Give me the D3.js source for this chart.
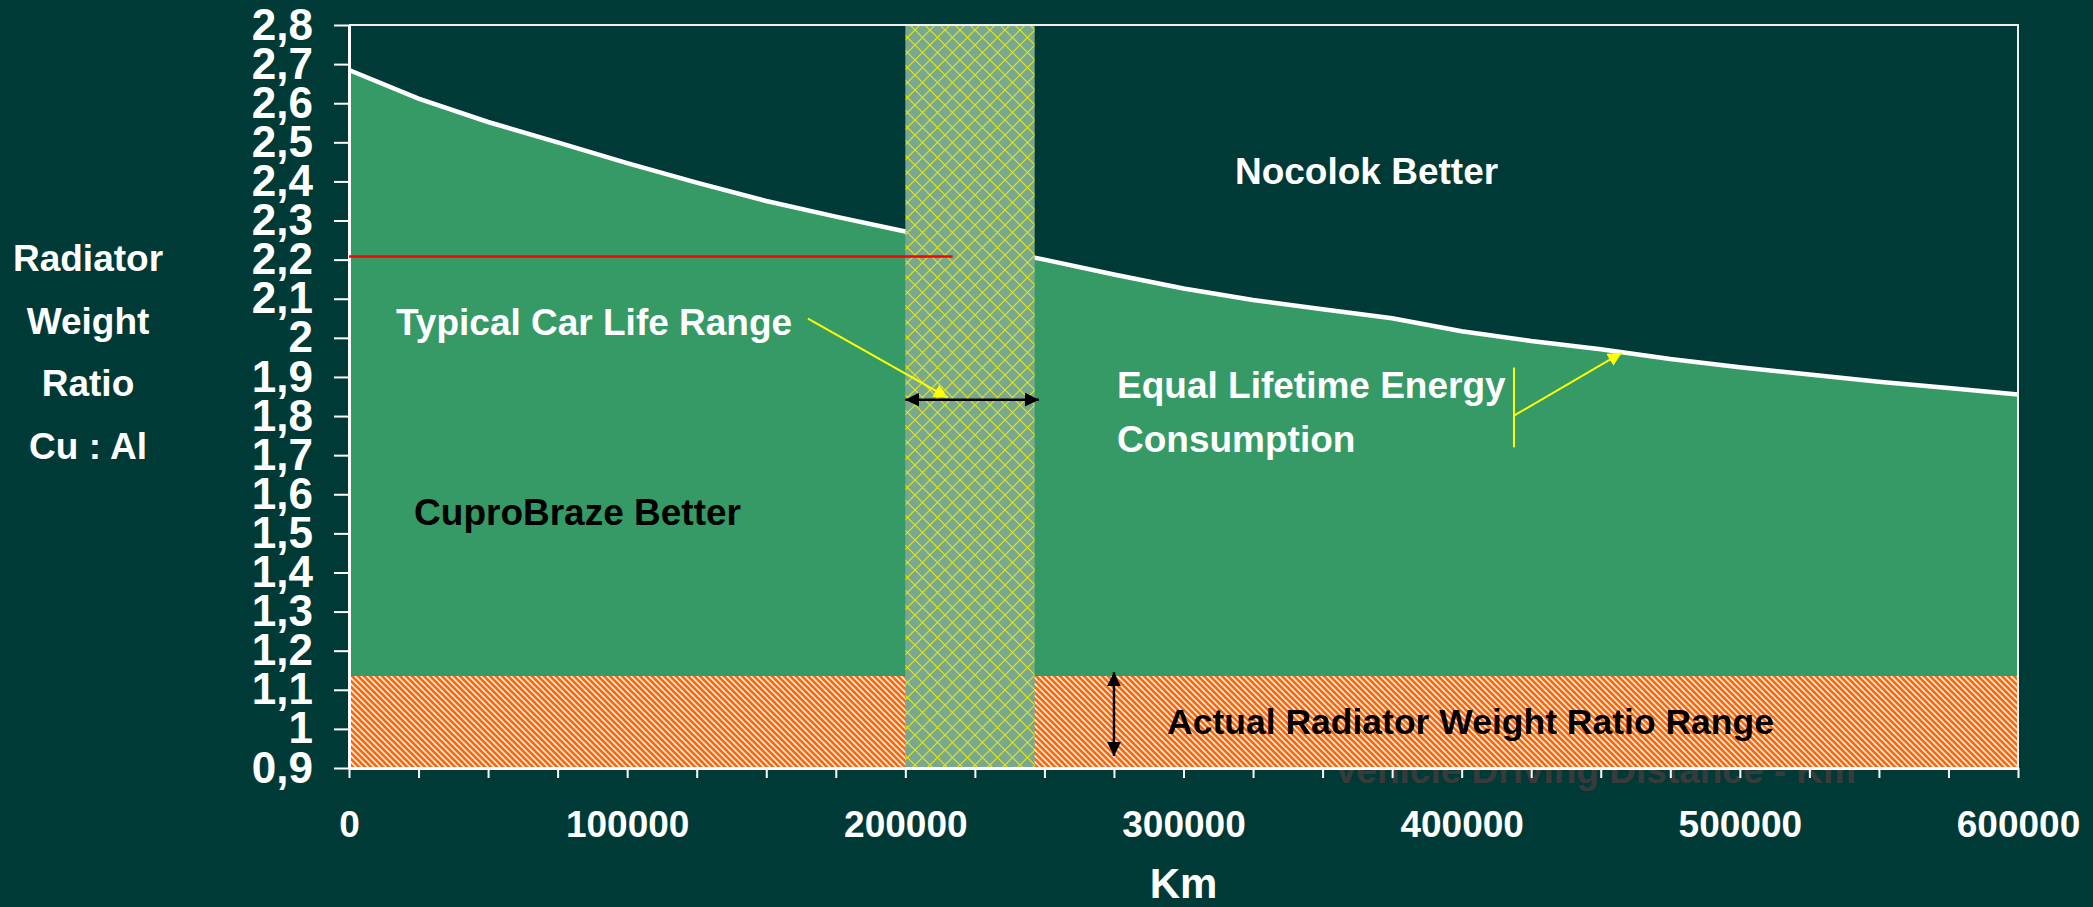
<!DOCTYPE html>
<html>
<head>
<meta charset="utf-8">
<script src="https://cdnjs.cloudflare.com/ajax/libs/d3/7.8.5/d3.min.js"></script>
<style>
body {margin: 0; background: #003a36;}
svg text {font-family: "Liberation Sans", Arial, Helvetica, sans-serif; font-weight: bold;}
</style>
</head>
<body>
<svg id="chart" width="2093" height="907"></svg>
<script>
// distance (km) and Cu:Al weight ratio giving equal lifetime energy
const km = [0, 25000, 50000, 75000, 100000, 125000, 150000, 175000, 200000, 225000, 250000,
            275000, 300000, 325000, 350000, 375000, 400000, 425000, 450000, 475000, 500000,
            525000, 550000, 575000, 600000];
const ratio = [2.685, 2.612, 2.552, 2.50, 2.447, 2.397, 2.35, 2.31, 2.272, 2.235, 2.20,
               2.162, 2.126, 2.097, 2.073, 2.05, 2.017, 1.992, 1.971, 1.946, 1.925,
               1.906, 1.888, 1.872, 1.855];
const yTicks = [0.9, 1, 1.1, 1.2, 1.3, 1.4, 1.5, 1.6, 1.7, 1.8, 1.9, 2, 2.1, 2.2, 2.3, 2.4, 2.5, 2.6, 2.7, 2.8];
const xLabels = [0, 100000, 200000, 300000, 400000, 500000, 600000];
const carLife = [200000, 246500];      // typical car life range (km)
const actualRange = [0.9, 1.135];      // actual radiator weight ratio range
const redLevel = 2.208;                // ratio marked at car life
const redEnd = 217000;
const yTitle = ["Radiator", "Weight", "Ratio", "Cu : Al"];

var margin = {top: 25, right: 75, bottom: 139, left: 349};
var W = 2093, H = 907;

var svg = d3.select("#chart");
var x = d3.scaleLinear().domain([0, 600000]).range([margin.left, W - margin.right]);
var y = d3.scaleLinear().domain([0.9, 2.8]).range([H - margin.bottom, margin.top]);

var defs = svg.append("defs");

// orange / white diagonal stripes
var stripes = defs.append("pattern")
    .attr("id", "stripes").attr("patternUnits", "userSpaceOnUse")
    .attr("width", 6).attr("height", 6);
stripes.append("rect").attr("width", 6).attr("height", 6).attr("fill", "#ffffff");
stripes.append("path").attr("d", "M-1,-1L7,7M-1,5L1,7M5,-1L7,1")
    .attr("stroke", "#ff6608").attr("stroke-width", 2.7);

var hatch = defs.append("pattern")
    .attr("id", "hatch").attr("patternUnits", "userSpaceOnUse")
    .attr("width", 15).attr("height", 15);
hatch.append("rect").attr("width", 15).attr("height", 15).attr("fill", "#78a990");
hatch.append("path").attr("d", "M0,0L15,15M15,0L0,15")
    .attr("stroke", "#e4e41a").attr("stroke-width", 1.2);

function marker(id, color, size) {
    defs.append("marker")
        .attr("id", id).attr("viewBox", "0 0 10 10")
        .attr("refX", 10).attr("refY", 5)
        .attr("markerUnits", "userSpaceOnUse")
        .attr("markerWidth", size).attr("markerHeight", size)
        .attr("orient", "auto-start-reverse")
      .append("path").attr("d", "M0,0L10,5L0,10Z").attr("fill", color);
}
marker("arrowY", "#ffff00", 14);
marker("arrowK", "#000000", 14);

// background
svg.append("rect").attr("width", W).attr("height", H).attr("fill", "#003a36");

// area under the equal-energy curve
var pts = km.map((d, i) => ({km: d, r: ratio[i]}));
svg.append("path")
    .datum(pts)
    .attr("fill", "#359a65")
    .attr("d", d3.area().x(d => x(d.km)).y0(y(0.9)).y1(d => y(d.r)));

// hidden title sitting behind the orange band
svg.append("text")
    .attr("x", x(354000)).attr("y", y(0.9) + 15)
    .attr("font-size", 37).attr("fill", "#3a3a3a")
    .text("Vehicle Driving Distance - Km");

svg.append("rect")
    .attr("x", x(0)).attr("width", x(600000) - x(0))
    .attr("y", y(actualRange[1])).attr("height", y(actualRange[0]) - y(actualRange[1]))
    .attr("fill", "url(#stripes)");

svg.append("path")
    .datum(pts)
    .attr("fill", "none").attr("stroke", "#ffffff").attr("stroke-width", 4.5)
    .attr("d", d3.line().x(d => x(d.km)).y(d => y(d.r)));

svg.append("rect")
    .attr("x", x(carLife[0])).attr("width", x(carLife[1]) - x(carLife[0]))
    .attr("y", y(2.8)).attr("height", y(0.9) - y(2.8))
    .attr("fill", "url(#hatch)");

// frame
svg.append("path")
    .attr("d", "M" + x(0) + "," + y(2.8) + "H" + x(600000) + "V" + y(0.9))
    .attr("fill", "none").attr("stroke", "#f0f0f0").attr("stroke-width", 2);

// axes
var yAxis = d3.axisLeft(y).tickValues(yTicks).tickSize(15).tickSizeOuter(0).tickPadding(21)
    .tickFormat(d => String(+d.toFixed(1)).replace(".", ","));
var gy = svg.append("g").attr("transform", "translate(" + x(0) + ",0)").call(yAxis);

var xAxis = d3.axisBottom(x).tickValues(d3.range(0, 600001, 25000)).tickSize(10).tickSizeOuter(0)
    .tickPadding(33)
    .tickFormat(d => xLabels.indexOf(d) > -1 ? d : "");
var gx = svg.append("g").attr("transform", "translate(0," + y(0.9) + ")").call(xAxis);

[gx, gy].forEach(g => {
    g.select(".domain").attr("stroke", "#ffffff").attr("stroke-width", 3);
    g.selectAll(".tick line").attr("stroke", "#ffffff").attr("stroke-width", 2);
    g.selectAll("text").attr("fill", "#ffffff").style("font-family", "'Liberation Sans', Arial, sans-serif")
        .style("font-weight", "bold");
});
gy.selectAll("text").attr("font-size", 44);
gx.selectAll("text").attr("font-size", 37);

svg.append("text")
    .attr("x", x(300000)).attr("y", H - 9)
    .attr("text-anchor", "middle").attr("font-size", 42).attr("fill", "#ffffff")
    .text("Km");

svg.selectAll(".ytitle")
    .data(yTitle)
    .enter().append("text")
    .attr("class", "ytitle")
    .attr("x", 88).attr("y", (d, i) => 271 + i * 62.5)
    .attr("text-anchor", "middle").attr("font-size", 37).attr("fill", "#ffffff")
    .text(d => d);

// red level line
svg.append("line")
    .attr("x1", x(0)).attr("x2", x(redEnd))
    .attr("y1", y(redLevel)).attr("y2", y(redLevel))
    .attr("stroke", "#ff0000").attr("stroke-width", 2.5);

// annotation arrows
svg.append("line")
    .attr("x1", x(165000)).attr("y1", y(2.049))
    .attr("x2", x(215300)).attr("y2", y(1.847))
    .attr("stroke", "#ffff00").attr("stroke-width", 2)
    .attr("marker-end", "url(#arrowY)");

svg.append("line")
    .attr("x1", x(200000)).attr("y1", y(1.842))
    .attr("x2", x(248000)).attr("y2", y(1.842))
    .attr("stroke", "#000000").attr("stroke-width", 2.5)
    .attr("marker-start", "url(#arrowK)").attr("marker-end", "url(#arrowK)");

svg.append("line")
    .attr("x1", x(275000)).attr("y1", y(1.145))
    .attr("x2", x(275000)).attr("y2", y(0.931))
    .attr("stroke", "#000000").attr("stroke-width", 2.5)
    .attr("marker-start", "url(#arrowK)").attr("marker-end", "url(#arrowK)");

svg.append("line")
    .attr("x1", x(418800)).attr("y1", y(1.924))
    .attr("x2", x(418800)).attr("y2", y(1.72))
    .attr("stroke", "#ffff00").attr("stroke-width", 2);
svg.append("line")
    .attr("x1", x(418800)).attr("y1", y(1.801))
    .attr("x2", x(457600)).attr("y2", y(1.962))
    .attr("stroke", "#ffff00").attr("stroke-width", 2)
    .attr("marker-end", "url(#arrowY)");

// labels
const notes = [
    {t: "Nocolok Better", k: 318500, r: 2.394, c: "#ffffff", s: 37},
    {t: "Typical Car Life Range", k: 16900, r: 2.006, c: "#ffffff", s: 37},
    {t: "CuproBraze Better", k: 23400, r: 1.521, c: "#000000", s: 37},
    {t: "Equal Lifetime Energy", k: 276100, r: 1.845, c: "#ffffff", s: 37},
    {t: "Consumption", k: 276100, r: 1.707, c: "#ffffff", s: 37},
    {t: "Actual Radiator Weight Ratio Range", k: 294100, r: 0.987, c: "#000000", s: 35.5}
];
svg.selectAll(".note")
    .data(notes)
    .enter().append("text")
    .attr("class", "note")
    .attr("x", d => x(d.k)).attr("y", d => y(d.r))
    .attr("font-size", d => d.s).attr("fill", d => d.c)
    .text(d => d.t);
</script>
</body>
</html>
